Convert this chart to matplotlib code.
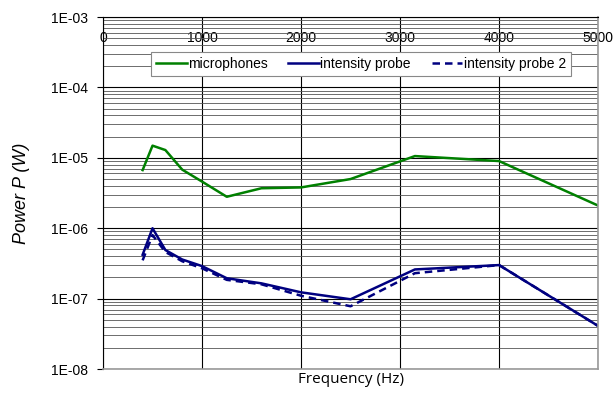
import matplotlib
matplotlib.use("Agg")
import matplotlib.pyplot as plt
from matplotlib.ticker import LogLocator, FixedLocator, NullFormatter

# Frequencies (1/3 octave bands)
freq = [400, 500, 630, 800, 1000, 1250, 1600, 2000, 2500, 3150, 4000, 5000]

# Power values (W)
microphones = [6.7e-6, 1.49e-5, 1.29e-5, 6.8e-6, 4.6e-6, 2.8e-6, 3.7e-6, 3.8e-6,
               5.0e-6, 1.06e-5, 9.0e-6, 2.1e-6]
probe = [4.2e-7, 1.0e-6, 4.9e-7, 3.6e-7, 2.9e-7, 1.95e-7, 1.65e-7, 1.23e-7,
         9.8e-8, 2.6e-7, 3.0e-7, 4.1e-8]
probe2 = [3.5e-7, 8.0e-7, 4.6e-7, 3.4e-7, 2.7e-7, 1.85e-7, 1.6e-7, 1.1e-7,
          7.8e-8, 2.3e-7, 3.0e-7, 4.1e-8]

xticks = [0, 1000, 2000, 3000, 4000, 5000]
ytick_vals = [1e-8, 1e-7, 1e-6, 1e-5, 1e-4, 1e-3]
ytick_labels = ["1E-08", "1E-07", "1E-06", "1E-05", "1E-04", "1E-03"]

fig = plt.figure(figsize=(6.15, 3.96), dpi=100)
ax = fig.add_axes([0.1675, 0.068, 0.805, 0.889])

ax.plot(freq, microphones, color="#008000", lw=1.8, label="microphones")
ax.plot(freq, probe, color="#000080", lw=1.8, label="intensity probe")
ax.plot(freq, probe2, color="#000080", lw=1.8, ls=(0, (3, 2)), label="intensity probe 2")

ax.set_yscale("log")
ax.set_ylim(1e-8, 1e-3)
ax.set_xlim(0, 5000)

ax.yaxis.set_major_locator(FixedLocator(ytick_vals))
ax.yaxis.set_minor_locator(LogLocator(base=10, subs=range(2, 10), numticks=20))
ax.yaxis.set_minor_formatter(NullFormatter())
ax.set_yticklabels(ytick_labels, fontsize=10, family="Liberation Sans")
ax.tick_params(axis="y", which="major", length=4, width=0.8, direction="out", pad=7)
ax.tick_params(axis="y", which="minor", length=0)

ax.xaxis.tick_top()
ax.set_xticks(xticks)
ax.set_xticklabels([str(v) for v in xticks], fontsize=10, family="Liberation Sans")
ax.tick_params(axis="x", which="major", length=0, pad=-20)

ax.grid(True, which="major", axis="both", color="black", lw=0.8)
ax.grid(True, which="minor", axis="y", color="#555555", lw=0.6)
ax.set_axisbelow(True)

for s in ["right", "bottom"]:
    ax.spines[s].set_color("#999999")
    ax.spines[s].set_linewidth(1.2)
ax.spines["left"].set_color("black")
ax.spines["top"].set_color("black")

ax.set_ylabel("Power P (W)", fontsize=13, style="italic",
              family="Liberation Sans", labelpad=15)
ax.set_xlabel("Frequency (Hz)", fontsize=11, family="Open Sans", labelpad=2)
ax.xaxis.set_label_position("bottom")

leg = ax.legend(loc="upper center", bbox_to_anchor=(0.521, 0.90), ncol=3,
                fancybox=False, framealpha=1, edgecolor="#888888",
                prop={"family": "Liberation Sans", "size": 10},
                handlelength=2.2, handletextpad=0.1, columnspacing=1.5,
                borderaxespad=0, borderpad=0.35)
leg.get_frame().set_linewidth(0.8)

fig.savefig("out.png", dpi=100)
